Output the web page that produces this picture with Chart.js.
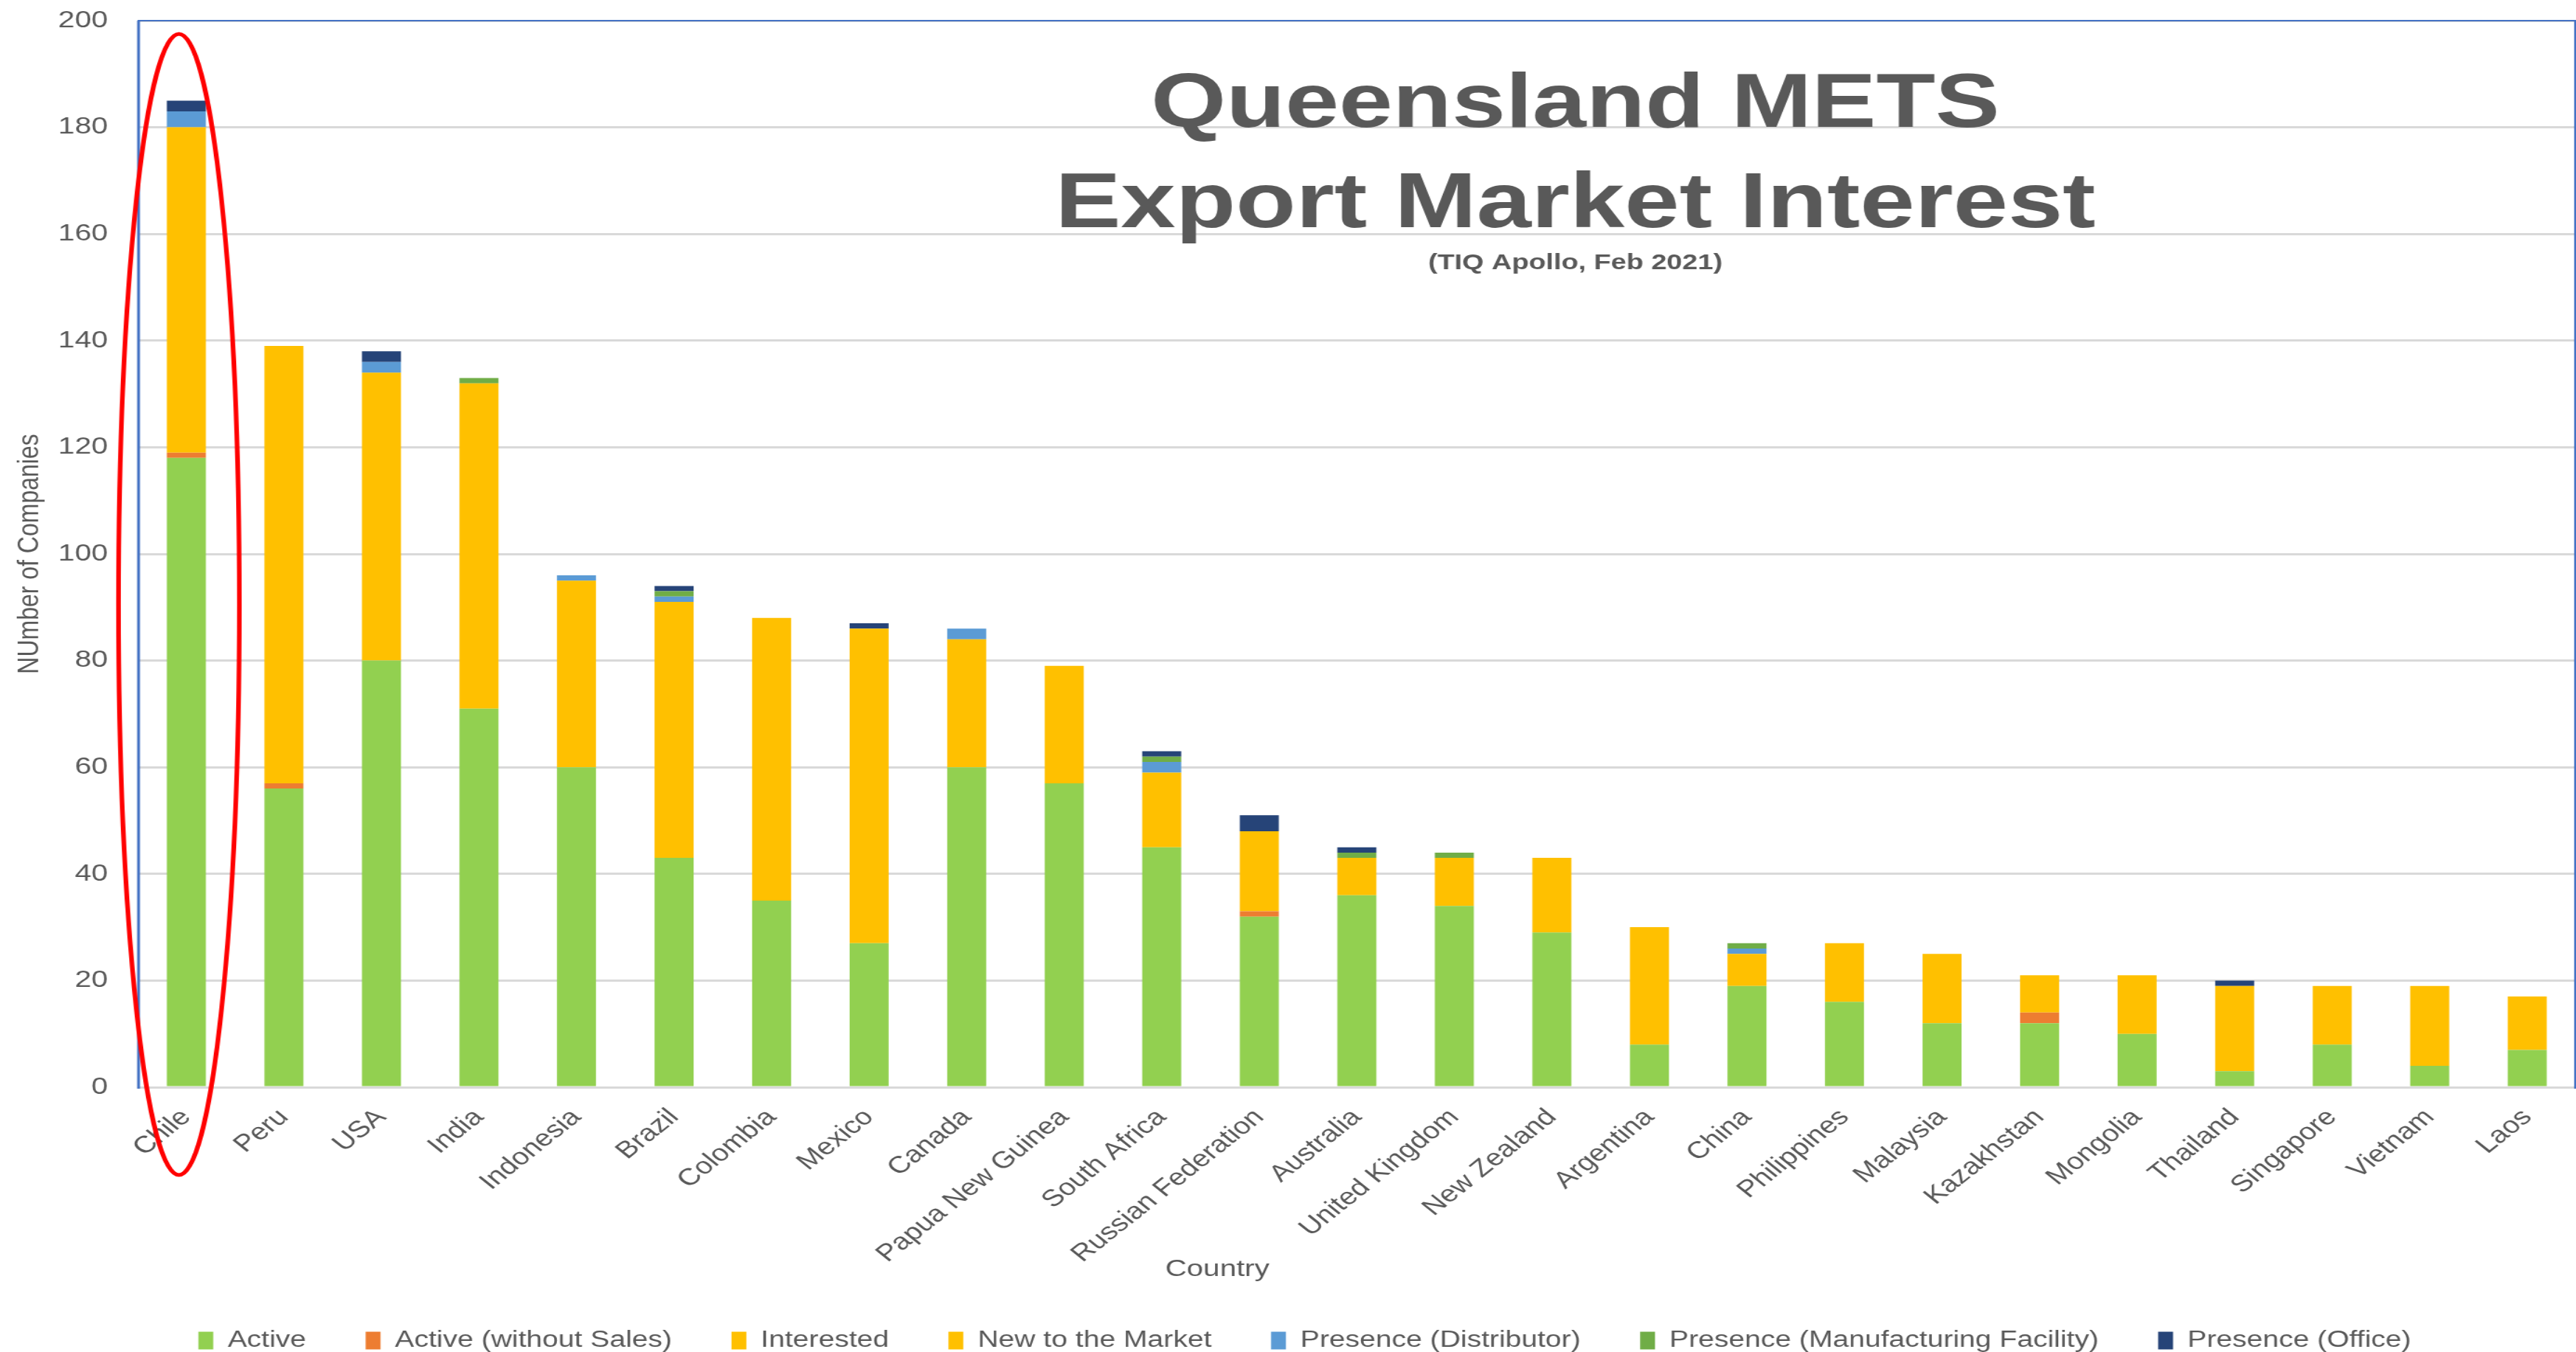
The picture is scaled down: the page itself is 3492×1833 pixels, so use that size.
<!DOCTYPE html>
<html>
<head>
<meta charset="utf-8">
<title>Queensland METS Export Market Interest</title>
<script src="https://cdn.jsdelivr.net/npm/chart.js@4.4.1/dist/chart.umd.min.js"></script>
<style>
    html, body { margin: 0; padding: 0; background: #ffffff; overflow: hidden; }
    /* the original picture is stretched sideways, so the chart is drawn narrow and scaled out */
    .chart-wrap {
        position: relative;
        width: 2771px;
        height: 1833px;
        transform: scaleX(1.2602);
        transform-origin: 0 0;
    }
</style>
</head>
<body>
<div class="chart-wrap">
    <canvas id="exportChart"></canvas>
</div>
<script>
const countries = ['Chile', 'Peru', 'USA', 'India', 'Indonesia', 'Brazil', 'Colombia', 'Mexico', 'Canada',
    'Papua New Guinea', 'South Africa', 'Russian Federation', 'Australia', 'United Kingdom', 'New Zealand',
    'Argentina', 'China', 'Philippines', 'Malaysia', 'Kazakhstan', 'Mongolia', 'Thailand', 'Singapore',
    'Vietnam', 'Laos'];

const active =        [118, 56, 80, 71, 60, 43, 35, 27, 60, 57, 45, 32, 36, 34, 29, 8, 19, 16, 12, 12, 10, 3, 8, 4, 7];
const activeNoSales = [1, 1, 0, 0, 0, 0, 0, 0, 0, 0, 0, 1, 0, 0, 0, 0, 0, 0, 0, 2, 0, 0, 0, 0, 0];
const interested =    [61, 82, 54, 61, 35, 48, 53, 59, 24, 22, 14, 15, 7, 9, 14, 22, 6, 11, 13, 7, 11, 16, 11, 15, 10];
const newToMarket =   [0, 0, 0, 0, 0, 0, 0, 0, 0, 0, 0, 0, 0, 0, 0, 0, 0, 0, 0, 0, 0, 0, 0, 0, 0];
const distributor =   [3, 0, 2, 0, 1, 1, 0, 0, 2, 0, 2, 0, 0, 0, 0, 0, 1, 0, 0, 0, 0, 0, 0, 0, 0];
const manufacturing = [0, 0, 0, 1, 0, 1, 0, 0, 0, 0, 1, 0, 1, 1, 0, 0, 1, 0, 0, 0, 0, 0, 0, 0, 0];
const office =        [2, 0, 2, 0, 0, 1, 0, 1, 0, 0, 1, 3, 1, 0, 0, 0, 0, 0, 0, 0, 0, 1, 0, 0, 0];

const yTicks = [0, 20, 40, 60, 80, 100, 120, 140, 160, 180, 200];

const textGrey = '#595959';
Chart.defaults.font.family = '"Liberation Sans", Arial, sans-serif';
Chart.defaults.color = textGrey;

// frame, title box, "Country" label and the red ring round Chile
const overlayPlugin = {
    id: 'overlay',
    afterLayout(chart) {
        // legend sits a little right of centre in the original
        chart.legend.left += 18;
        chart.legend.right += 18;
    },
    afterDraw(chart) {
        const { ctx, chartArea: a, scales: { x, y } } = chart;
        ctx.save();

        ctx.strokeStyle = '#4472C4';
        ctx.lineWidth = 3;
        ctx.beginPath();
        ctx.moveTo(a.left + 1, a.bottom + 2);
        ctx.lineTo(a.left + 1, a.top);
        ctx.stroke();
        ctx.lineWidth = 2;
        ctx.beginPath();
        ctx.moveTo(a.left, a.top);
        ctx.lineTo(a.right - 1, a.top);
        ctx.lineTo(a.right - 1, a.bottom + 2);
        ctx.stroke();

        const cx = a.left + a.width * 0.5896;
        ctx.fillStyle = textGrey;
        ctx.textAlign = 'center';
        ctx.textBaseline = 'alphabetic';
        ctx.font = 'bold 104px "Liberation Sans", Arial, sans-serif';
        ctx.fillText('Queensland METS', cx, a.top + 144);
        ctx.font = 'bold 106px "Liberation Sans", Arial, sans-serif';
        ctx.fillText('Export Market Interest', cx, a.top + 280);
        ctx.font = 'bold 30px "Liberation Sans", Arial, sans-serif';
        ctx.fillText('(TIQ Apollo, Feb 2021)', cx, a.top + 337);

        ctx.font = '32px "Liberation Sans", Arial, sans-serif';
        ctx.textBaseline = 'middle';
        ctx.fillText('Country', a.left + a.width * 0.4428, a.bottom + 247);

        const ringTop = y.getPixelForValue(197.5);
        const ringBottom = a.bottom + 119;
        ctx.strokeStyle = '#FF0000';
        ctx.lineWidth = 5;
        ctx.beginPath();
        ctx.ellipse(x.getPixelForValue(0) - 8, (ringTop + ringBottom) / 2, 65, (ringBottom - ringTop) / 2, 0, 0, Math.PI * 2);
        ctx.stroke();

        ctx.restore();
    }
};

const exportChart = new Chart(document.getElementById('exportChart').getContext('2d'), {
    type: 'bar',
    data: {
        labels: countries,
        datasets: [
            { label: 'Active', data: active, backgroundColor: '#92D050' },
            { label: 'Active (without Sales)', data: activeNoSales, backgroundColor: '#ED7D31' },
            { label: 'Interested', data: interested, backgroundColor: '#FFC000' },
            { label: 'New to the Market', data: newToMarket, backgroundColor: '#FFC000' },
            { label: 'Presence (Distributor)', data: distributor, backgroundColor: '#5B9BD5' },
            { label: 'Presence (Manufacturing Facility)', data: manufacturing, backgroundColor: '#70AD47' },
            { label: 'Presence (Office)', data: office, backgroundColor: '#264478' }
        ]
    },
    options: {
        responsive: true,
        maintainAspectRatio: false,
        animation: false,
        layout: {
            padding: { top: 28, bottom: -10, left: 0, right: 0 }
        },
        datasets: {
            bar: {
                categoryPercentage: 1.0,
                barPercentage: 0.4,
                borderWidth: 0
            }
        },
        scales: {
            x: {
                stacked: true,
                grid: { display: false },
                border: { display: false },
                ticks: {
                    autoSkip: false,
                    minRotation: 45,
                    maxRotation: 45,
                    padding: 14,
                    color: textGrey,
                    font: { size: 32 }
                },
                afterFit(scale) {
                    scale.height = 264;
                }
            },
            y: {
                stacked: true,
                min: 0,
                max: 200,
                afterBuildTicks(scale) {
                    scale.ticks = yTicks.map(v => ({ value: v }));
                },
                grid: {
                    color: '#D9D9D9',
                    lineWidth: 3,
                    drawTicks: false
                },
                border: { display: false },
                ticks: {
                    padding: 32,
                    color: textGrey,
                    font: { size: 32 }
                },
                title: {
                    display: true,
                    text: 'NUmber of Companies',
                    color: textGrey,
                    font: { size: 32 },
                    padding: { top: 13, bottom: 0 }
                },
                afterFit(scale) {
                    scale.width = 148;
                    // tick padding would otherwise push the plot down
                    scale.paddingTop = 0;
                    scale.paddingBottom = 0;
                }
            }
        },
        plugins: {
            legend: {
                position: 'bottom',
                labels: {
                    boxWidth: 16,
                    boxHeight: 24,
                    padding: 64,
                    color: textGrey,
                    font: { size: 31 }
                }
            },
            tooltip: { enabled: false },
            title: { display: false }
        }
    },
    plugins: [overlayPlugin]
});
</script>
</body>
</html>
